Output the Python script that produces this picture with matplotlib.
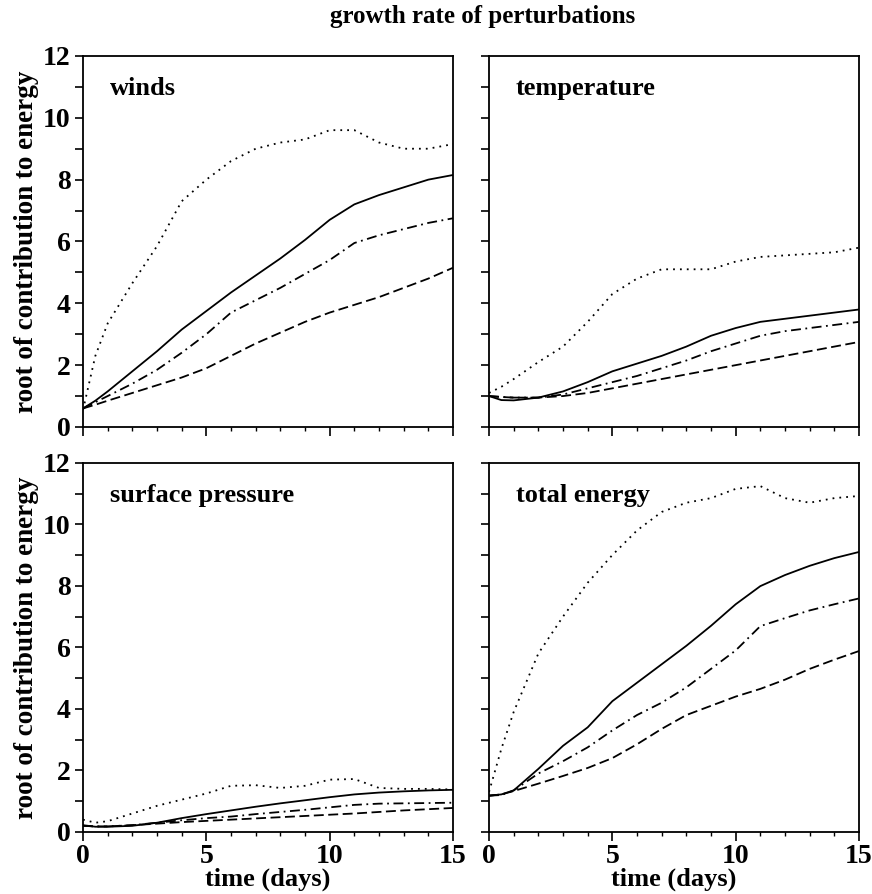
import matplotlib
matplotlib.use('Agg')
from matplotlib import pyplot as plt
from matplotlib.ticker import MultipleLocator

plt.rcParams['font.family'] = ['Liberation Serif', 'DejaVu Serif']
plt.rcParams['font.weight'] = 'bold'

days = [0, 0.5, 1, 2, 3, 4, 5, 6, 7, 8, 9, 10, 11, 12, 13, 14, 15]

# winds
winds_dot = [0.55, 2.3, 3.35, 4.65, 5.85, 7.3, 8.0, 8.6, 9.0, 9.2, 9.3, 9.6, 9.6, 9.2, 9.0, 9.0, 9.15]
winds_sol = [0.6, 0.85, 1.15, 1.8, 2.45, 3.15, 3.75, 4.35, 4.9, 5.45, 6.05, 6.7, 7.2, 7.5, 7.75, 8.0, 8.15]
winds_dd = [0.6, 0.8, 1.0, 1.4, 1.85, 2.4, 3.0, 3.7, 4.1, 4.5, 4.95, 5.4, 5.95, 6.2, 6.4, 6.6, 6.75]
winds_das = [0.6, 0.72, 0.85, 1.1, 1.35, 1.6, 1.9, 2.3, 2.7, 3.05, 3.4, 3.7, 3.95, 4.2, 4.5, 4.8, 5.15]

# temperature
temp_dot = [1.1, 1.3, 1.55, 2.1, 2.6, 3.4, 4.3, 4.8, 5.1, 5.1, 5.1, 5.35, 5.5, 5.55, 5.6, 5.65, 5.8]
temp_sol = [1.0, 0.87, 0.86, 0.95, 1.15, 1.45, 1.8, 2.05, 2.3, 2.6, 2.95, 3.2, 3.4, 3.5, 3.6, 3.7, 3.8]
temp_dd = [1.0, 0.97, 0.95, 0.95, 1.05, 1.25, 1.45, 1.65, 1.9, 2.15, 2.45, 2.7, 2.95, 3.1, 3.2, 3.3, 3.4]
temp_das = [1.0, 0.97, 0.95, 0.95, 1.0, 1.1, 1.25, 1.4, 1.55, 1.7, 1.85, 2.0, 2.15, 2.3, 2.45, 2.6, 2.75]

# surface pressure
sp_dot = [0.4, 0.3, 0.35, 0.6, 0.85, 1.05, 1.25, 1.5, 1.52, 1.43, 1.5, 1.7, 1.72, 1.43, 1.4, 1.4, 1.38]
sp_sol = [0.22, 0.17, 0.17, 0.2, 0.3, 0.45, 0.58, 0.7, 0.82, 0.93, 1.03, 1.13, 1.22, 1.28, 1.32, 1.35, 1.37]
sp_dd = [0.2, 0.18, 0.18, 0.22, 0.3, 0.38, 0.45, 0.5, 0.58, 0.65, 0.72, 0.8, 0.88, 0.92, 0.93, 0.94, 0.95]
sp_das = [0.2, 0.18, 0.18, 0.22, 0.27, 0.32, 0.36, 0.4, 0.44, 0.48, 0.52, 0.56, 0.6, 0.65, 0.7, 0.74, 0.78]

# total energy
tot_dot = [1.3, 2.7, 3.9, 5.8, 7.0, 8.1, 9.0, 9.8, 10.4, 10.7, 10.85, 11.15, 11.24, 10.85, 10.7, 10.85, 10.92]
tot_sol = [1.18, 1.22, 1.35, 2.05, 2.8, 3.4, 4.25, 4.85, 5.45, 6.05, 6.7, 7.4, 7.99, 8.35, 8.65, 8.9, 9.1]
tot_dd = [1.18, 1.2, 1.35, 1.9, 2.3, 2.75, 3.3, 3.8, 4.2, 4.7, 5.3, 5.9, 6.69, 6.95, 7.2, 7.4, 7.59]
tot_das = [1.18, 1.22, 1.33, 1.57, 1.82, 2.08, 2.4, 2.85, 3.35, 3.8, 4.1, 4.4, 4.65, 4.95, 5.3, 5.6, 5.88]

panels = [
    ('winds', winds_dot, winds_sol, winds_dd, winds_das),
    ('temperature', temp_dot, temp_sol, temp_dd, temp_das),
    ('surface pressure', sp_dot, sp_sol, sp_dd, sp_das),
    ('total energy', tot_dot, tot_sol, tot_dd, tot_das),
]

# axes positions [left, bottom, width, height] in figure fractions
boxes = [
    [0.0952, 0.5224, 0.4243, 0.4150],
    [0.5608, 0.5224, 0.4243, 0.4150],
    [0.0952, 0.0694, 0.4243, 0.4130],
    [0.5608, 0.0694, 0.4243, 0.4130],
]

fig = plt.figure(figsize=(8.72, 8.94), dpi=100)

for i, (name, dot, sol, dd, das) in enumerate(panels):
    ax = fig.add_axes(boxes[i])
    ax.plot(days, dot, color='black', lw=1.3, linestyle=(0, (1, 2.8)))
    ax.plot(days, sol, color='black', lw=1.3, linestyle='-')
    ax.plot(days, dd, color='black', lw=1.3, linestyle=(0, (5.5, 2.5, 1, 2.5)))
    ax.plot(days, das, color='black', lw=1.3, linestyle=(0, (5.5, 2.5)))

    ax.set_xlim(0, 15)
    ax.set_ylim(0, 12)
    ax.xaxis.set_major_locator(MultipleLocator(5))
    ax.xaxis.set_minor_locator(MultipleLocator(1))
    ax.yaxis.set_major_locator(MultipleLocator(2))
    ax.yaxis.set_minor_locator(MultipleLocator(1))
    ax.tick_params(which='major', axis='x', direction='out', length=6.5, width=1.2, pad=2, labelsize=20)
    ax.tick_params(which='minor', axis='x', direction='out', length=3, width=1.0)
    ax.tick_params(which='both', axis='y', direction='out', length=6, width=1.2, pad=3, labelsize=20)
    for s in ax.spines.values():
        s.set_linewidth(1.3)

    ax.text(0.072, 0.912, name, transform=ax.transAxes, fontsize=19, fontweight='bold',
            ha='left', va='center')

    if i % 2 == 0:
        ax.set_ylabel('root of contribution to energy', fontsize=19.5, fontweight='bold', labelpad=3)
    else:
        ax.tick_params(axis='y', labelleft=False)
    if i >= 2:
        ax.set_xlabel('time (days)', fontsize=19, fontweight='bold', labelpad=-1)
    else:
        ax.tick_params(axis='x', labelbottom=False)

fig.text(0.554, 0.982, 'growth rate of perturbations', fontsize=18, fontweight='bold',
         ha='center', va='center')

fig.savefig('out.png', dpi=100)
